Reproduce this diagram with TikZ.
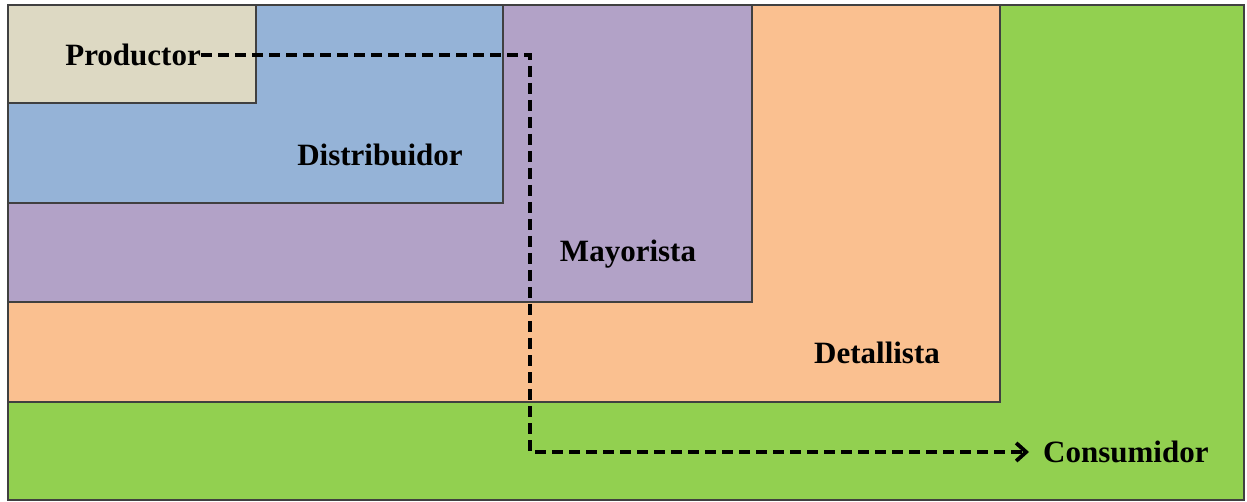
\documentclass[tikz,border=0pt]{standalone}
\usepackage{fontspec}
\setmainfont{Liberation Serif}
\usetikzlibrary{arrows.meta}
\begin{document}
\begin{tikzpicture}[x=1pt,y=-1pt,
  zone/.style={draw=black!75, line width=1.3pt},
  lbl/.style={font=\fontsize{31}{37}\selectfont\bfseries, inner sep=0pt},
  flow/.style={line width=4.5pt, dash pattern=on 11pt off 6pt, -{Straight Barb[length=10pt,width=18pt,line width=3.8pt]}}]
\useasboundingbox (0,0) rectangle (1247,502);
\definecolor{cgreen}{HTML}{92D050}
\definecolor{corange}{HTML}{FAC090}
\definecolor{cpurple}{HTML}{B2A2C7}
\definecolor{cblue}{HTML}{95B3D7}
\definecolor{cbeige}{HTML}{DDD9C3}
\draw[zone, fill=cgreen] (8,5) rectangle (1244,500);
\draw[zone, fill=corange] (8,5) rectangle (1000,402);
\draw[zone, fill=cpurple] (8,5) rectangle (752,302);
\draw[zone, fill=cblue] (8,5) rectangle (503,203);
\draw[zone, fill=cbeige] (8,5) rectangle (256,103);
\node[lbl, anchor=east] (prod) at (201,55) {Productor};
\node[lbl] (dist) at (380,155) {Distribuidor};
\node[lbl] (may) at (628,254) {Mayorista};
\node[lbl] (det) at (877,353) {Detallista};
\node[lbl, anchor=west] (cons) at (1043,452) {Consumidor};
\coordinate (c1) at (530,55);
\coordinate (c2) at (530,452);
\draw[flow] (prod.east) -- (c1) -- (c2) -- ([xshift=-14pt]cons.west);
\end{tikzpicture}
\end{document}
